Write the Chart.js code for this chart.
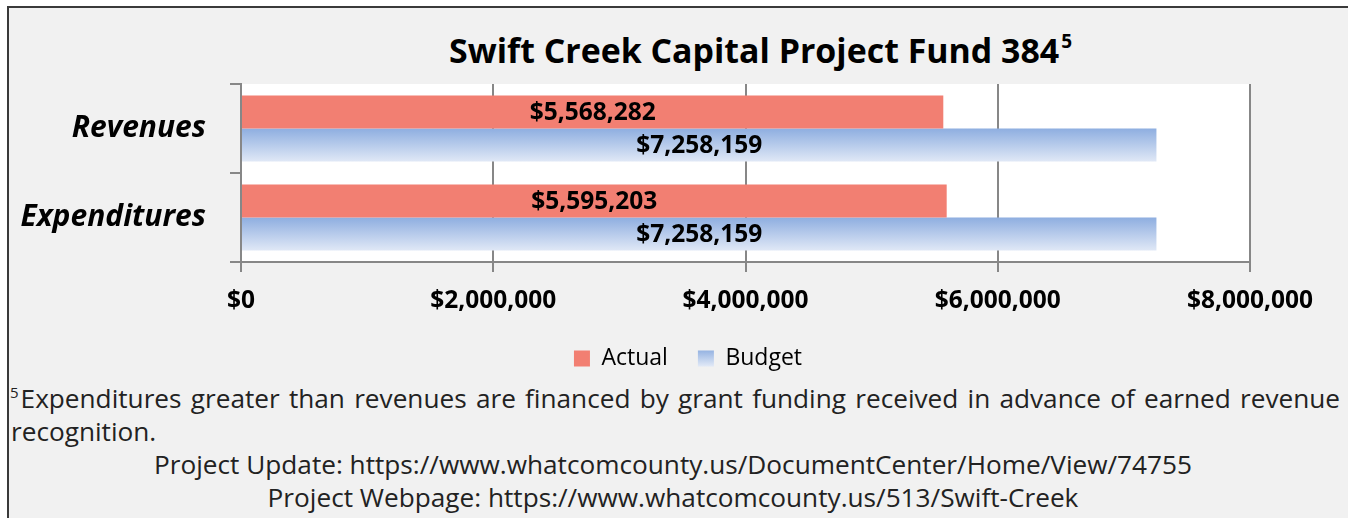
<!DOCTYPE html>
<html>
<head>
<meta charset="utf-8">
<script src="https://cdn.jsdelivr.net/npm/chart.js@4.4.0/dist/chart.umd.min.js"></script>
<style>
  body { margin: 0; width: 1348px; height: 518px; overflow: hidden; background: #fff; font-family: "Open Sans", sans-serif; }
  #frame { position: absolute; left: 7px; top: 6px; width: 1345px; height: 520px; background: #f1f1f1;
           border-left: 2px solid #3a3a3a; border-top: 2px solid #3a3a3a; }
  #wrap { position: absolute; left: 0; top: 0; width: 1348px; height: 380px; }
  #title { position: absolute; left: 449px; top: 27px; line-height: 40px; font: bold 33.9px "Open Sans", sans-serif;
           color: #000; white-space: nowrap; }
  #title sup { font-size: 19px; line-height: 0; position: relative; top: -3px; margin-left: 2px; }
  .note { position: absolute; font-size: 26.2px; line-height: 33px; color: #222; white-space: nowrap; }
  #n1 { left: 10px; top: 382px; width: 1330px; white-space: normal; text-align: justify; text-align-last: justify; }
  #n1 sup { font-size: 15px; line-height: 0; margin-right: 2px; }
  #n2 { left: 11px; top: 415px; }
  #n3, #n4 { left: 0; width: 1346px; text-align: center; }
  #n3 { top: 448px; }
  #n4 { top: 481px; }
</style>
</head>
<body>
<div id="frame"></div>
<div id="title">Swift Creek Capital Project Fund 384<sup>5</sup></div>
<div id="wrap"><canvas id="chart"></canvas></div>
<div class="note" id="n1"><sup>5</sup>Expenditures greater than revenues are financed by grant funding received in advance of earned revenue</div>
<div class="note" id="n2">recognition.</div>
<div class="note" id="n3">Project Update: https://www.whatcomcounty.us/DocumentCenter/Home/View/74755</div>
<div class="note" id="n4">Project Webpage: https://www.whatcomcounty.us/513/Swift-Creek</div>
<script>
const categories = ['Revenues', 'Expenditures'];
const actualValues = [5568282, 5595203];
const budgetValues = [7258159, 7258159];
const tickValues = [0, 2000000, 4000000, 6000000, 8000000];

const axisGray = '#878787';
const blueTop = '#8eaee0';
const blueBottom = '#e0e8f6';
const money = v => '$' + Math.round(v).toLocaleString('en-US');

function fade(ctx, top, bottom) {
    const g = ctx.createLinearGradient(0, top, 0, bottom);
    g.addColorStop(0, blueTop);
    g.addColorStop(1, blueBottom);
    return g;
}

// vertical blue fade for each budget bar, computed from the category band
function budgetFill(ctx) {
    const chart = ctx.chart;
    const y = chart.scales.y;
    if (ctx.dataIndex === undefined || !y || !isFinite(y.top)) return '#b4c7ea';
    const band = (y.bottom - y.top) / categories.length;
    const mid = y.getPixelForValue(ctx.dataIndex);
    return fade(chart.ctx, mid, mid + band * 0.742 / 2);
}

const plotBackground = {
    id: 'plotBackground',
    afterLayout(chart) {
        // legend sits a little right of the canvas centre
        chart.legend.left += 14;
        chart.legend.right += 14;
    },
    beforeDraw(chart) {
        const { ctx, chartArea: a } = chart;
        ctx.save();
        ctx.fillStyle = '#ffffff';
        ctx.fillRect(a.left, a.top, a.right - a.left, a.bottom - a.top);
        ctx.restore();
        // legend swatch for Budget gets the same fade as the bars
        const lg = chart.legend;
        if (lg && lg.legendHitBoxes && lg.legendHitBoxes[1]) {
            const hb = lg.legendHitBoxes[1];
            lg.legendItems[1].fillStyle = fade(ctx, hb.top + 2, hb.top + hb.height - 4);
        }
    }
};

const barValues = {
    id: 'barValues',
    afterDatasetsDraw(chart) {
        const ctx = chart.ctx;
        ctx.save();
        ctx.font = 'bold 24.5px "Open Sans", sans-serif';
        ctx.fillStyle = '#000';
        ctx.textAlign = 'center';
        ctx.textBaseline = 'middle';
        chart.data.datasets.forEach((ds, di) => {
            chart.getDatasetMeta(di).data.forEach((bar, i) => {
                const p = bar.getCenterPoint();
                ctx.fillText(money(ds.data[i]), p.x, p.y + 1);
            });
        });
        ctx.restore();
    }
};

new Chart(document.getElementById('chart'), {
    type: 'bar',
    data: {
        labels: categories,
        datasets: [
            { label: 'Actual', data: actualValues, backgroundColor: '#f27f72',
              categoryPercentage: 0.742, barPercentage: 1 },
            { label: 'Budget', data: budgetValues, backgroundColor: budgetFill,
              categoryPercentage: 0.742, barPercentage: 1 }
        ]
    },
    options: {
        indexAxis: 'y',
        responsive: true,
        maintainAspectRatio: false,
        animation: false,
        layout: { padding: { top: 84, right: 0, left: 0, bottom: 0 } },
        scales: {
            x: {
                min: 0, max: 8000000,
                afterBuildTicks: s => { s.ticks = tickValues.map(v => ({ value: v })); },
                afterFit: s => { s.height = 55; s.paddingRight = 98; },
                grid: { color: axisGray, lineWidth: 2, tickLength: 10 },
                border: { color: axisGray, width: 2 },
                ticks: { color: '#000', padding: 14, font: { family: 'Open Sans', weight: 'bold', size: 24.5 },
                          callback: v => money(v), maxRotation: 0 }
            },
            y: {
                afterFit: s => { s.width = 241; },
                grid: { drawOnChartArea: false, offset: true, color: axisGray, lineWidth: 2, tickLength: 11 },
                border: { color: axisGray, width: 2 },
                ticks: { color: '#000', padding: 24, font: { family: 'Open Sans', weight: 'bold', style: 'italic', size: 30 } }
            }
        },
        plugins: {
            legend: {
                position: 'bottom',
                labels: { color: '#000', boxWidth: 16, boxHeight: 16, padding: 30,
                          font: { family: 'Open Sans', size: 23 } }
            },
            tooltip: { enabled: false }
        }
    },
    plugins: [plotBackground, barValues]
});
</script>
</body>
</html>
